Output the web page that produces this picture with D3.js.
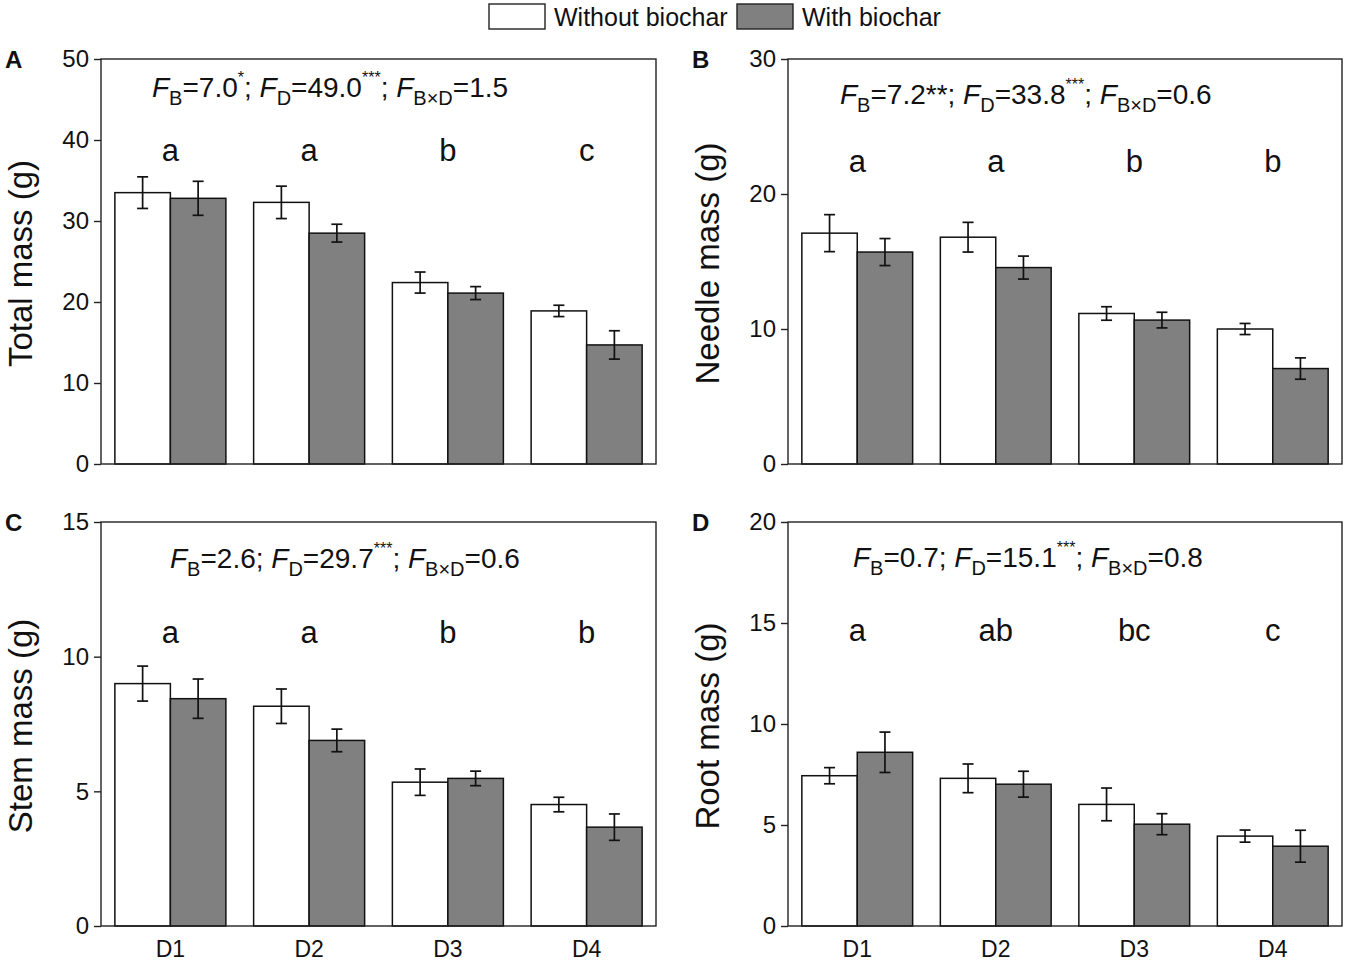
<!DOCTYPE html>
<html>
<head>
<meta charset="utf-8">
<script src="https://cdn.jsdelivr.net/npm/d3@7"></script>
<style>
  body { margin: 0; background: #fff; }
  text { font-family: "Liberation Sans", Arial, sans-serif; fill: #111; }
</style>
</head>
<body>
<script>
// categories and series
const categories = ["D1", "D2", "D3", "D4"];
const seriesNames = ["Without biochar", "With biochar"];

const totalWithout = [33.5, 32.3, 22.4, 18.9];
const totalWithoutErr = [1.95, 2.0, 1.3, 0.7];
const totalWith = [32.8, 28.5, 21.1, 14.7];
const totalWithErr = [2.1, 1.1, 0.8, 1.75];

const needleWithout = [17.1, 16.8, 11.15, 10.0];
const needleWithoutErr = [1.37, 1.1, 0.5, 0.41];
const needleWith = [15.7, 14.55, 10.66, 7.07];
const needleWithErr = [1.0, 0.85, 0.58, 0.79];

const stemWithout = [9.0, 8.16, 5.34, 4.51];
const stemWithoutErr = [0.65, 0.64, 0.49, 0.27];
const stemWith = [8.44, 6.89, 5.48, 3.67];
const stemWithErr = [0.73, 0.42, 0.27, 0.49];

const rootWithout = [7.44, 7.31, 6.02, 4.45];
const rootWithoutErr = [0.4, 0.71, 0.81, 0.3];
const rootWith = [8.6, 7.02, 5.04, 3.95];
const rootWithErr = [1.0, 0.64, 0.52, 0.79];

// significance letters
const totalLetters = ["a", "a", "b", "c"];
const needleLetters = ["a", "a", "b", "b"];
const stemLetters = ["a", "a", "b", "b"];
const rootLetters = ["a", "ab", "bc", "c"];

// y tick values
const totalTicks = [0, 10, 20, 30, 40, 50];
const needleTicks = [0, 10, 20, 30];
const stemTicks = [0, 5, 10, 15];
const rootTicks = [0, 5, 10, 15, 20];

// ANOVA text: [text, kind] kind: n normal, i italic, sub, sup
const totalStats = [["F","i"],["B","sub"],["=7.0","n"],["*","sup"],["; ","n"],["F","i"],["D","sub"],["=49.0","n"],["***","sup"],["; ","n"],["F","i"],["B×D","sub"],["=1.5","n"]];
const needleStats = [["F","i"],["B","sub"],["=7.2**; ","n"],["F","i"],["D","sub"],["=33.8","n"],["***","sup"],["; ","n"],["F","i"],["B×D","sub"],["=0.6","n"]];
const stemStats = [["F","i"],["B","sub"],["=2.6; ","n"],["F","i"],["D","sub"],["=29.7","n"],["***","sup"],["; ","n"],["F","i"],["B×D","sub"],["=0.6","n"]];
const rootStats = [["F","i"],["B","sub"],["=0.7; ","n"],["F","i"],["D","sub"],["=15.1","n"],["***","sup"],["; ","n"],["F","i"],["B×D","sub"],["=0.8","n"]];

const colors = ["#ffffff", "#808080"];

const W = 1345, H = 963;
const svg = d3.select("body").append("svg")
  .attr("width", W)
  .attr("height", H);

const panels = [
  {tag: "A", title: "Total mass (g)", x0: 101, x1: 656, y0: 59, y1: 464, max: 50, ticks: totalTicks,
   series: [[totalWithout, totalWithoutErr], [totalWith, totalWithErr]], letters: totalLetters, letterY: 37.4,
   stats: totalStats, statsX: 152, statsY: 97, xlabels: false},
  {tag: "B", title: "Needle mass (g)", x0: 788, x1: 1342, y0: 59, y1: 464, max: 30, ticks: needleTicks,
   series: [[needleWithout, needleWithoutErr], [needleWith, needleWithErr]], letters: needleLetters, letterY: 21.6,
   stats: needleStats, statsX: 840, statsY: 104, xlabels: false},
  {tag: "C", title: "Stem mass (g)", x0: 101, x1: 656, y0: 522, y1: 926, max: 15, ticks: stemTicks,
   series: [[stemWithout, stemWithoutErr], [stemWith, stemWithErr]], letters: stemLetters, letterY: 10.5,
   stats: stemStats, statsX: 170, statsY: 568, xlabels: true},
  {tag: "D", title: "Root mass (g)", x0: 788, x1: 1342, y0: 522, y1: 926, max: 20, ticks: rootTicks,
   series: [[rootWithout, rootWithoutErr], [rootWith, rootWithErr]], letters: rootLetters, letterY: 14.1,
   stats: rootStats, statsX: 853, statsY: 567, xlabels: true}
];

panels.forEach(p => {
  const g = svg.append("g");

  const x = d3.scaleBand()
    .domain(categories)
    .range([p.x0, p.x1])
    .paddingInner(0.2)
    .paddingOuter(0.1);

  const xs = d3.scaleBand()
    .domain([0, 1])
    .range([0, x.bandwidth()]);

  const y = d3.scaleLinear()
    .domain([0, p.max])
    .range([p.y1, p.y0]);

  // bars
  p.series.forEach((s, si) => {
    const vals = s[0], errs = s[1];
    g.selectAll(".bar" + si)
      .data(categories)
      .enter()
      .append("rect")
      .attr("x", (d, i) => x(d) + xs(si))
      .attr("y", (d, i) => y(vals[i]))
      .attr("width", xs.bandwidth())
      .attr("height", (d, i) => y(0) - y(vals[i]))
      .attr("fill", colors[si])
      .attr("stroke", "#111")
      .attr("stroke-width", 1.5);

    // error bars
    const eb = g.selectAll(".err" + si)
      .data(categories)
      .enter()
      .append("g")
      .attr("stroke", "#111")
      .attr("stroke-width", 1.7);
    const cx = d => x(d) + xs(si) + xs.bandwidth() / 2;
    eb.append("line")
      .attr("x1", cx).attr("x2", cx)
      .attr("y1", (d, i) => y(vals[i] + errs[i]))
      .attr("y2", (d, i) => y(vals[i] - errs[i]));
    eb.append("line")
      .attr("x1", d => cx(d) - 5.5).attr("x2", d => cx(d) + 5.5)
      .attr("y1", (d, i) => y(vals[i] + errs[i]))
      .attr("y2", (d, i) => y(vals[i] + errs[i]));
    eb.append("line")
      .attr("x1", d => cx(d) - 5.5).attr("x2", d => cx(d) + 5.5)
      .attr("y1", (d, i) => y(vals[i] - errs[i]))
      .attr("y2", (d, i) => y(vals[i] - errs[i]));
  });

  // frame
  g.append("rect")
    .attr("x", p.x0).attr("y", p.y0)
    .attr("width", p.x1 - p.x0).attr("height", p.y1 - p.y0)
    .attr("fill", "none")
    .attr("stroke", "#222")
    .attr("stroke-width", 1.4);

  // y axis
  const yAxis = g.append("g")
    .attr("transform", `translate(${p.x0},0)`)
    .call(d3.axisLeft(y).tickValues(p.ticks).tickSize(7).tickPadding(5).tickFormat(d3.format("d")));
  yAxis.select(".domain").remove();
  yAxis.selectAll("line").attr("stroke", "#222").attr("stroke-width", 1.4);
  yAxis.selectAll("text")
    .style("font-family", "'Liberation Sans', Arial, sans-serif")
    .style("font-size", "24px")
    .attr("fill", "#111");

  // x labels
  if (p.xlabels) {
    const xAxis = g.append("g")
      .attr("transform", `translate(0,${p.y1})`)
      .call(d3.axisBottom(x).tickSize(0).tickPadding(15));
    xAxis.select(".domain").remove();
    xAxis.selectAll("text")
      .style("font-family", "'Liberation Sans', Arial, sans-serif")
      .style("font-size", "23px")
      .attr("fill", "#111");
  }

  // y title
  g.append("text")
    .attr("transform", `translate(${p.x0 - 69},${(p.y0 + p.y1) / 2 + 2}) rotate(-90)`)
    .attr("text-anchor", "middle")
    .style("font-size", "33px")
    .text(p.title);

  // panel tag
  g.append("text")
    .attr("x", p.x0 - 96)
    .attr("y", p.y0 + 9)
    .style("font-size", "24px")
    .style("font-weight", "bold")
    .text(p.tag);

  // significance letters
  g.selectAll(".letter")
    .data(categories)
    .enter()
    .append("text")
    .attr("x", d => x(d) + x.bandwidth() / 2)
    .attr("y", y(p.letterY))
    .attr("text-anchor", "middle")
    .style("font-size", "31px")
    .text((d, i) => p.letters[i]);

  // ANOVA stats
  const st = g.append("text")
    .attr("x", p.statsX)
    .attr("y", p.statsY)
    .style("font-size", "28px");
  let shift = 0;
  p.stats.forEach(seg => {
    const t = st.append("tspan").text(seg[0]);
    let target = 0;
    if (seg[1] === "i") t.style("font-style", "italic");
    if (seg[1] === "sub") { t.style("font-size", "20px"); target = 8; }
    if (seg[1] === "sup") { t.style("font-size", "16px"); target = -14; }
    t.attr("dy", target - shift);
    shift = target;
  });
});

// legend
const legend = svg.append("g");
const legendX = [489, 737];
seriesNames.forEach((name, i) => {
  legend.append("rect")
    .attr("x", legendX[i]).attr("y", 4)
    .attr("width", 56).attr("height", 25)
    .attr("fill", colors[i])
    .attr("stroke", "#222")
    .attr("stroke-width", 1.4);
  legend.append("text")
    .attr("x", legendX[i] + 65)
    .attr("y", 26)
    .style("font-size", "25px")
    .text(name);
});
</script>
</body>
</html>
